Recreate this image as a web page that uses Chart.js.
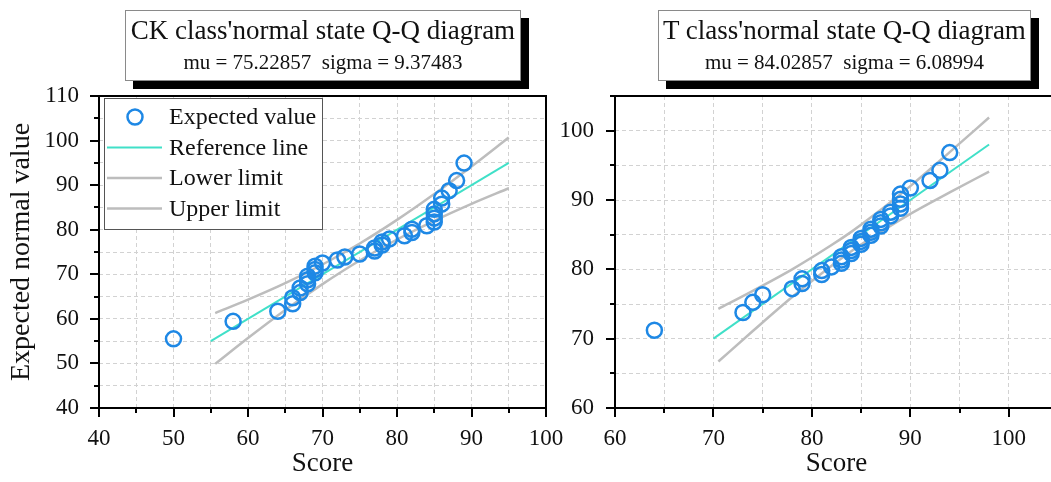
<!DOCTYPE html>
<html>
<head>
<meta charset="utf-8">
<title>Q-Q diagrams</title>
<script src="https://cdn.jsdelivr.net/npm/chart.js@4.4.1/dist/chart.umd.min.js"></script>
<style>
  html, body { margin: 0; padding: 0; background: #fff; width: 1051px; height: 482px; overflow: hidden; }
  canvas { position: absolute; top: 0; }
  #ckChart { left: 0; }
  #tChart { left: 540px; }
  .titleBox {
    position: absolute; box-sizing: border-box; background: #fff;
    border: 1px solid #8a8a8a; box-shadow: 8px 8px 0 #000;
    font-family: "Liberation Serif", "Times New Roman", serif; color: #111; text-align: center;
    padding-top: 2px;
  }
  .titleBox .main { font-size: 27px; line-height: 34px; white-space: nowrap; }
  .titleBox .sub { font-size: 21px; line-height: 30px; white-space: pre; }
</style>
</head>
<body>
<canvas id="ckChart" width="580" height="482"></canvas>
<canvas id="tChart" width="528" height="482"></canvas>
<div class="titleBox" style="left:125px; top:10px; width:396px; height:71px;">
  <div class="main" id="ckTitle"></div>
  <div class="sub" id="ckSub"></div>
</div>
<div class="titleBox" style="left:658px; top:10px; width:373px; height:71px;">
  <div class="main" id="tTitle"></div>
  <div class="sub" id="tSub"></div>
</div>
<script>
// ---- CK class ----
const ckTitle = "CK class'normal state Q-Q diagram";
const ckSub = "mu = 75.22857  sigma = 9.37483";
const ckScore = [50, 58, 64, 66, 66, 67, 67, 68, 68, 68, 69, 69, 69, 70, 72, 73, 75, 77,
  77, 78, 78, 79, 81, 82, 82, 84, 85, 85, 85, 85, 86, 86, 87, 88, 89];
const ckExpected = [55.52, 59.44, 61.70, 63.37, 64.73, 65.89, 66.92, 67.87, 68.75, 69.57,
  70.35, 71.09, 71.82, 72.52, 73.21, 73.89, 74.56, 75.23, 75.90, 76.57, 77.25, 77.94,
  78.64, 79.37, 80.11, 80.89, 81.71, 82.59, 83.54, 84.57, 85.73, 87.09, 88.76, 91.02, 94.94];
const ckRefX = [55, 95];
const ckRefY = [55, 95];
const ckBandX = [55.6, 60, 65, 70, 75, 80, 85, 90, 95];
const ckLower = [49.9, 55.7, 62.0, 67.8, 73.1, 77.8, 82.0, 85.8, 89.3];
const ckUpper = [61.3, 64.3, 68.0, 72.2, 76.9, 82.2, 88.0, 94.2, 100.7];

// ---- T class ----
const tTitle = "T class'normal state Q-Q diagram";
const tSub = "mu = 84.02857  sigma = 6.08994";
const tScore = [64, 73, 74, 75, 78, 79, 79, 81, 81, 82, 83, 83, 83, 84, 84, 84, 85, 85,
  85, 86, 86, 86, 87, 87, 87, 88, 88, 89, 89, 89, 89, 90, 92, 93, 94];
const tExpected = [71.22, 73.77, 75.24, 76.33, 77.21, 77.96, 78.63, 79.25, 79.82, 80.35,
  80.86, 81.34, 81.81, 82.27, 82.72, 83.16, 83.60, 84.03, 84.46, 84.90, 85.34, 85.79,
  86.25, 86.71, 87.20, 87.71, 88.24, 88.81, 89.43, 90.10, 90.85, 91.73, 92.82, 94.28, 96.84];
const tRefX = [70, 98];
const tRefY = [70, 98];
const tBandX = [70.5, 74, 78, 82, 84, 86, 90, 94, 98];
const tLower = [66.7, 71.1, 76.0, 80.5, 82.6, 84.5, 88.0, 91.1, 94.1];
const tUpper = [74.3, 76.9, 80.0, 83.5, 85.4, 87.5, 92.0, 96.9, 101.9];

const seriesLabels = ["Expected value", "Reference line", "Lower limit", "Upper limit"];

document.getElementById("ckTitle").textContent = ckTitle;
document.getElementById("ckSub").textContent = ckSub;
document.getElementById("tTitle").textContent = tTitle;
document.getElementById("tSub").textContent = tSub;

const FONT = "'Liberation Serif', 'Times New Roman', serif";
Chart.defaults.font.family = FONT;
Chart.defaults.color = "#111";

const BLUE = "#1e88e5";
const TEAL = "#40e0c8";
const GRAY = "#bdbdbd";

const toPoints = (xs, ys) => xs.map((x, i) => ({ x: x, y: ys[i] }));

function makeDatasets(score, expected, refX, refY, bandX, lower, upper) {
  return [
    {
      label: seriesLabels[0],
      data: toPoints(score, expected),
      showLine: false,
      pointStyle: "circle",
      pointRadius: 7.5,
      pointBorderWidth: 2.5,
      borderColor: BLUE,
      backgroundColor: "rgba(0,0,0,0)",
      order: 0,
    },
    {
      label: seriesLabels[1],
      data: toPoints(refX, refY),
      showLine: true,
      pointRadius: 0,
      borderColor: TEAL,
      borderWidth: 2,
      order: 1,
    },
    {
      label: seriesLabels[2],
      data: toPoints(bandX, lower),
      showLine: true,
      pointRadius: 0,
      borderColor: GRAY,
      borderWidth: 2.5,
      cubicInterpolationMode: "monotone",
      order: 2,
    },
    {
      label: seriesLabels[3],
      data: toPoints(bandX, upper),
      showLine: true,
      pointRadius: 0,
      borderColor: GRAY,
      borderWidth: 2.5,
      cubicInterpolationMode: "monotone",
      order: 2,
    },
  ];
}

// axis box + major/minor tick marks
const frameTicks = {
  id: "frameTicks",
  afterDraw(chart) {
    const { ctx, chartArea: a } = chart;
    const x = chart.scales.x;
    const y = chart.scales.y;
    ctx.save();
    ctx.strokeStyle = "#000";
    ctx.lineWidth = 2;
    ctx.strokeRect(a.left, a.top, a.right - a.left, a.bottom - a.top);
    ctx.beginPath();
    x.ticks.forEach((t) => {
      if (t.value % 5 !== 0) return;
      const px = Math.round(x.getPixelForValue(t.value));
      const len = t.value % 10 === 0 ? 9 : 5;
      ctx.moveTo(px, a.bottom);
      ctx.lineTo(px, a.bottom + len);
    });
    y.ticks.forEach((t) => {
      if (t.value % 5 !== 0) return;
      const py = Math.round(y.getPixelForValue(t.value));
      const len = t.value % 10 === 0 ? 9 : 5;
      ctx.moveTo(a.left, py);
      ctx.lineTo(a.left - len, py);
    });
    ctx.stroke();
    ctx.restore();
  },
};

// boxed legend in the upper-left corner (CK chart only)
const legendBox = {
  id: "legendBox",
  afterDraw(chart, args, opts) {
    if (!opts.show) return;
    const ctx = chart.ctx;
    ctx.save();
    ctx.fillStyle = "#fff";
    ctx.fillRect(104, 98, 218, 131);
    ctx.strokeStyle = "#555";
    ctx.lineWidth = 1;
    ctx.strokeRect(104.5, 98.5, 218, 131);
    ctx.font = "24px " + FONT;
    ctx.textBaseline = "middle";
    chart.data.datasets.forEach((ds, i) => {
      const cy = 117 + i * 30.5;
      if (ds.showLine === false) {
        ctx.beginPath();
        ctx.arc(135, cy, ds.pointRadius, 0, Math.PI * 2);
        ctx.strokeStyle = ds.borderColor;
        ctx.lineWidth = ds.pointBorderWidth;
        ctx.stroke();
      } else {
        ctx.beginPath();
        ctx.moveTo(107, cy);
        ctx.lineTo(162, cy);
        ctx.strokeStyle = ds.borderColor;
        ctx.lineWidth = ds.borderWidth;
        ctx.stroke();
      }
      ctx.fillStyle = "#111";
      ctx.fillText(ds.label, 169, cy + 1);
    });
    ctx.restore();
  },
};

function makeScales(xr, yr, yWidth, yPad, yTitle) {
  const tickLabel = (v) => (v % 10 === 0 && v < 105 ? v : "");
  return {
    x: {
      type: "linear",
      min: xr[0],
      max: xr[1],
      ticks: { stepSize: 5, includeBounds: false, autoSkip: false, maxRotation: 0, padding: 17, font: { size: 23 }, callback: tickLabel },
      grid: { color: "#d2d2d2", lineWidth: 1, drawTicks: false },
      border: { display: false, dash: [4, 3] },
      title: { display: true, text: "Score", font: { size: 27 }, padding: { top: 0, bottom: 2 } },
      afterFit: (s) => { s.height = 74; s.paddingLeft = 0; s.paddingRight = 0; },
    },
    y: {
      type: "linear",
      min: yr[0],
      max: yr[1],
      ticks: { stepSize: 5, includeBounds: false, autoSkip: false, padding: yPad, font: { size: 23 }, callback: (v) => (v % 10 === 0 ? v : "") },
      grid: { color: "#d2d2d2", lineWidth: 1, drawTicks: false },
      border: { display: false, dash: [4, 3] },
      title: { display: !!yTitle, text: yTitle || "", font: { size: 28 }, padding: { top: 5, bottom: 0 } },
      afterFit: (s) => { s.width = yWidth; s.paddingTop = 0; s.paddingBottom = 0; },
    },
  };
}

const ckConfig = {
  type: "scatter",
  data: { datasets: makeDatasets(ckScore, ckExpected, ckRefX, ckRefY, ckBandX, ckLower, ckUpper) },
  options: {
    responsive: false,
    animation: false,
    layout: { padding: { top: 96, right: 34, left: 0, bottom: 0 } },
    plugins: { legend: { display: false }, tooltip: { enabled: false }, legendBox: { show: true } },
    scales: makeScales([40, 100], [40, 110], 99, 20, "Expected normal value"),
  },
  plugins: [frameTicks, legendBox],
};

const tConfig = {
  type: "scatter",
  data: { datasets: makeDatasets(tScore, tExpected, tRefX, tRefY, tBandX, tLower, tUpper) },
  options: {
    responsive: false,
    animation: false,
    layout: { padding: { top: 96, right: 0, left: 0, bottom: 0 } },
    plugins: { legend: { display: false }, tooltip: { enabled: false }, legendBox: { show: false } },
    scales: makeScales([60, 105], [60, 105], 75, 21, null),
  },
  plugins: [frameTicks, legendBox],
};

new Chart(document.getElementById("ckChart").getContext("2d"), ckConfig);
new Chart(document.getElementById("tChart").getContext("2d"), tConfig);
</script>
</body>
</html>
